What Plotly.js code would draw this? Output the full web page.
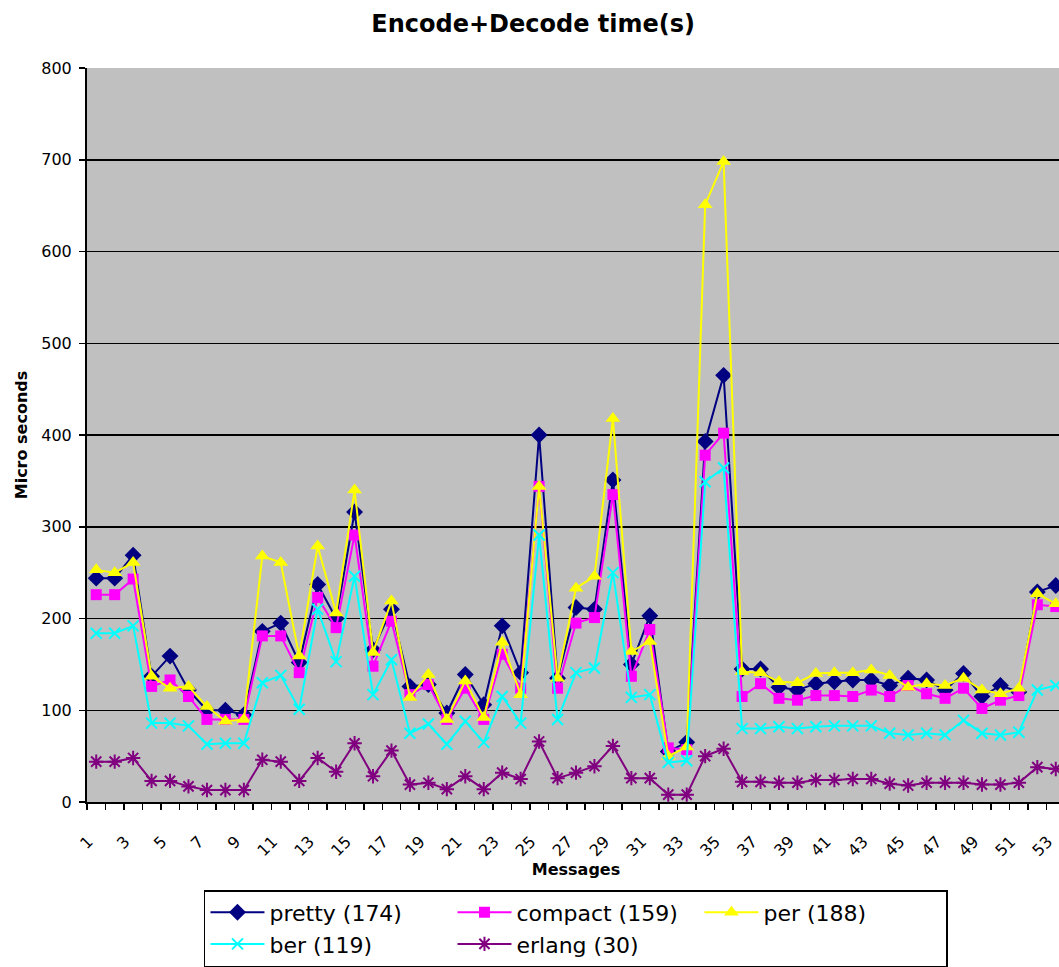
<!DOCTYPE html>
<html>
<head>
<meta charset="utf-8">
<script src="https://cdn.plot.ly/plotly-3.0.1.min.js"></script>
<style>
  html, body { margin: 0; padding: 0; overflow: hidden; background: #fff; }
  #chart { width: 1075px; height: 990px; }
</style>
</head>
<body>
<div id="chart"></div>
<script>
// Messages 1..53
const messages = [1,2,3,4,5,6,7,8,9,10,11,12,13,14,15,16,17,18,19,20,21,22,23,24,25,26,27,28,29,30,31,32,33,34,35,36,37,38,39,40,41,42,43,44,45,46,47,48,49,50,51,52,53];
const tickValues = [1,3,5,7,9,11,13,15,17,19,21,23,25,27,29,31,33,35,37,39,41,43,45,47,49,51,53];
const tickLabels = ["1","3","5","7","9","11","13","15","17","19","21","23","25","27","29","31","33","35","37","39","41","43","45","47","49","51","53"];

const pretty  = [244,244,269,137,159,122,100,100,95,186,195,152,237,200,316,166,210,126,128,97,139,106,192,141,400,135,212,210,351,150,203,55,65,393,465,145,145,125,122,129,131,133,133,127,135,133,122,140,115,127,120,229,236];
const compact = [226,226,243,126,133,115,90,90,90,181,181,141,223,190,291,148,197,117,128,90,124,90,161,124,344,124,195,201,335,137,188,59,57,378,402,115,129,113,111,116,116,115,122,115,127,118,113,124,102,111,116,215,213];
const per     = [253,250,261,137,124,126,104,88,90,268,261,159,279,206,340,163,219,114,139,90,132,92,174,117,344,135,233,246,418,164,175,50,60,651,698,142,141,131,130,140,141,141,144,138,125,129,127,135,122,118,124,227,216];
const ber     = [184,184,192,86,86,83,63,64,64,130,138,101,210,153,246,117,155,75,85,63,88,65,115,86,291,90,141,146,250,114,117,43,45,349,364,80,80,82,80,82,83,83,83,75,73,75,73,89,75,73,76,122,127];
const erlang  = [44,44,48,23,23,17,13,13,13,46,44,23,48,33,64,28,56,19,21,14,28,14,32,25,66,26,32,39,61,26,26,8,8,50,58,22,22,21,21,24,24,25,25,20,18,21,21,21,19,19,21,38,36];

const seriesNames = ["pretty (174)","compact (159)","per (188)","ber (119)","erlang (30)"];

const FONT = "DejaVu Sans, Verdana, sans-serif";

function tr(y, name, color, symbol, size, open) {
  return {
    x: messages, y: y, name: name, type: "scatter", mode: "lines+markers",
    line: {color: color, width: 2},
    marker: open
      ? {symbol: symbol, size: size, color: color, line: {color: color, width: 2}}
      : {symbol: symbol, size: size, color: color, line: {color: color, width: 0}}
  };
}

const data = [
  tr(pretty,  seriesNames[0], "#000080", "diamond", 13, false),
  tr(compact, seriesNames[1], "#FF00FF", "square", 11, false),
  tr(per,     seriesNames[2], "#FFFF00", "triangle-up", 13, false),
  tr(ber,     seriesNames[3], "#00FFFF", "x-thin-open", 11, true),
  tr(erlang,  seriesNames[4], "#800080", "asterisk-open", 12, true)
];

const layout = {
  width: 1075, height: 990,
  margin: {l: 87, r: 10, t: 68, b: 188},
  paper_bgcolor: "#ffffff",
  plot_bgcolor: "#C0C0C0",
  font: {family: FONT, color: "#000"},
  title: {
    text: "Encode+Decode time(s)",
    font: {family: FONT, size: 24, weight: "bold", color: "#000"},
    xref: "container", x: 0.496, xanchor: "center",
    yref: "container", y: 1 - 24/990, yanchor: "middle"
  },
  showlegend: true,
  legend: {
    orientation: "h",
    x: 0.1196, xanchor: "left",
    y: -0.1199, yanchor: "top",
    bgcolor: "#ffffff", bordercolor: "#000", borderwidth: 1.5,
    font: {family: FONT, size: 22, color: "#000"},
    itemwidth: 54,
    entrywidth: 178,
    traceorder: "normal"
  },
  xaxis: {
    type: "linear",
    range: [0.5, 53.5],
    tickmode: "array", tickvals: tickValues, ticktext: tickLabels,
    tickangle: -45,
    ticks: "",
    ticklabelstandoff: 22,
    ticklabelshift: -8,
    tickfont: {family: FONT, size: 16, color: "#000"},
    showgrid: false, zeroline: false,
    showline: true, linecolor: "#000", linewidth: 2,
    minor: {tickmode: "linear", tick0: 0.5, dtick: 1, ticks: "outside", ticklen: 6, tickcolor: "#000", tickwidth: 1.5, showgrid: false},
    title: {text: "Messages", font: {family: FONT, size: 16, weight: "bold", color: "#000"}, standoff: 0},
    fixedrange: true
  },
  yaxis: {
    range: [0, 800], dtick: 100, tick0: 0,
    ticks: "outside", ticklen: 6, tickcolor: "#000", tickwidth: 1.5,
    ticklabelstandoff: 4,
    tickfont: {family: FONT, size: 16, color: "#000"},
    showgrid: true, gridcolor: "#000", gridwidth: 1.5,
    zeroline: false,
    showline: true, linecolor: "#000", linewidth: 2,
    title: {text: "Micro seconds", font: {family: FONT, size: 16, weight: "bold", color: "#000"}, standoff: 10},
    fixedrange: true
  }
};

Plotly.newPlot("chart", data, layout, {displayModeBar: false, staticPlot: true});
</script>
</body>
</html>
